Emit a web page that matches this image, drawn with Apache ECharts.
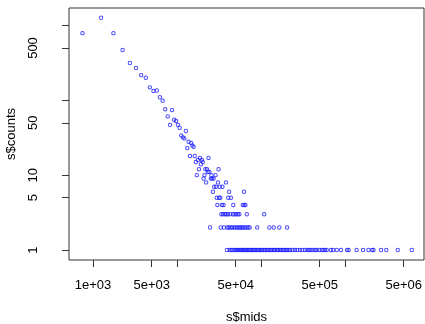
<!DOCTYPE html>
<html>
<head>
<meta charset="utf-8">
<script src="https://cdn.jsdelivr.net/npm/echarts@6/dist/echarts.min.js"></script>
<style>
    html, body { margin: 0; padding: 0; background: #fff; }
    #chart { width: 425px; height: 324px; }
</style>
</head>
<body>
<div id="chart"></div>
<script>
// bin mids and counts of the steep left part
const headMids = [750, 1250, 1750, 2250, 2750, 3250, 3750, 4250, 4750, 5250, 5750, 6250, 6750, 7250, 7750,
    8250, 8750, 9250, 9750, 10250, 10750, 11250, 11750, 12250, 12750, 13250, 13750, 14250, 14750, 15250,
    15750, 16250, 16750, 17250, 17750, 18250, 18750, 19250, 19750, 20250, 20750, 21250, 21750, 22250,
    22750, 23250, 23750, 24250, 24750, 25250, 25750, 26250, 26750, 27250, 27750, 28750, 29250, 29750,
    30250, 30750, 31250, 31750, 32250, 32750];
const headCounts = [790, 1270, 790, 470, 315, 270, 217, 200, 149, 133, 135, 110, 99, 76, 61,
    47, 74, 55, 53, 47, 43, 34, 32, 31, 39, 23, 28, 18, 27, 25,
    24, 18, 15, 10, 16, 12, 17, 14, 16, 15, 9, 10, 12, 8,
    12, 11, 17, 11, 2, 9, 10, 9, 6, 9, 7, 10, 7, 5,
    4, 8, 12, 5, 7, 5];

// tail: mids of the bins sitting on each low count row
const midsCount1 = [39250, 42250, 44250, 45750, 48750, 50250, 51750, 53750, 56250, 57750, 59750, 62250,
    64750, 66250, 68750, 71250, 74250, 76750, 79250, 82750, 85250, 88750, 92250, 95750, 99250, 103250,
    107750, 112250, 116750, 121250, 126750, 131250, 136750, 142750, 148250, 154750, 160750, 167250,
    174250, 181750, 189250, 197250, 205250, 213750, 222750, 238250, 254250, 270750, 291250, 310250,
    334250, 355750, 372750, 390750, 412750, 439250, 460250, 494250, 527750, 551750, 578250, 605250,
    678250, 718250, 797250, 896250, 1058250, 1102250, 1374250, 1641250, 1902250, 2110250, 2181250,
    2690250, 3103250, 4250250, 6235250];
const midsCount2 = [33250, 36250, 39750, 41250, 43250, 45250, 47750, 49750, 52250, 54250, 56750, 58750,
    61250, 64250, 67250, 70750, 73250, 90250, 125750, 141750, 165250, 204750];
const midsCount3 = [33750, 35250, 37250, 38750, 40250, 42750, 46250, 48250, 50750, 53250, 55250, 67750, 109250];
const midsCount4 = [34250, 35750, 46750, 60750, 63250, 65250];
const midsCount5 = [40750, 43750];
const midsCount6 = [41750, 62750];
const midsCount7 = [34750];
const midsCount8 = [38250];

const xTicks = [1e3, 5e3, 1e4, 5e4, 1e5, 5e5, 1e6, 5e6];
const xLabels = [1e3, 5e3, 5e4, 5e5, 5e6];
const yTicks = [1, 5, 10, 50, 100, 500, 1000];
const yLabels = [1, 5, 10, 50, 500];

const points = headMids.map((m, i) => [m, headCounts[i]]);
[midsCount1, midsCount2, midsCount3, midsCount4, midsCount5, midsCount6, midsCount7, midsCount8]
    .forEach((row, i) => row.forEach(m => points.push([m, i + 1])));

const font = 'Liberation Sans, Arial, sans-serif';

const chart = echarts.init(document.getElementById('chart'));
chart.setOption({
    animation: false,
    grid: {
        left: 69, right: 1, top: 8, bottom: 64,
        outerBoundsMode: 'none',
        show: true, borderColor: '#333', borderWidth: 1
    },
    xAxis: {
        type: 'log',
        logBase: 10,
        min: 518,
        max: 8.72e6,
        name: 's$mids',
        nameLocation: 'middle',
        nameGap: 51,
        nameTextStyle: {fontFamily: font, fontSize: 13, color: '#000'},
        axisLine: {show: false},
        splitLine: {show: false},
        axisTick: {show: true, length: 7, customValues: xTicks, lineStyle: {color: '#333'}},
        axisLabel: {
            customValues: xLabels,
            margin: 19,
            fontFamily: font, fontSize: 13, color: '#000',
            formatter: v => Number(v).toExponential(0).replace(/e([+-])(\d)$/, (s, a, b) => 'e' + a + '0' + b)
        }
    },
    yAxis: {
        type: 'log',
        logBase: 10,
        min: 0.7356,
        max: 1712,
        name: 's$counts',
        nameLocation: 'middle',
        nameGap: 51,
        nameTextStyle: {fontFamily: font, fontSize: 13, color: '#000'},
        axisLine: {show: false},
        splitLine: {show: false},
        axisTick: {show: true, length: 7, customValues: yTicks, lineStyle: {color: '#333'}},
        axisLabel: {
            customValues: yLabels,
            rotate: 90,
            margin: 29,
            fontFamily: font, fontSize: 13, color: '#000',
            formatter: v => String(Math.round(v))
        }
    },
    series: [{
        type: 'scatter',
        data: points,
        symbol: 'circle',
        symbolSize: 3.4,
        itemStyle: {color: 'rgba(0,0,0,0)', borderColor: '#1a1aff', borderWidth: 1}
    }]
});
</script>
</body>
</html>
